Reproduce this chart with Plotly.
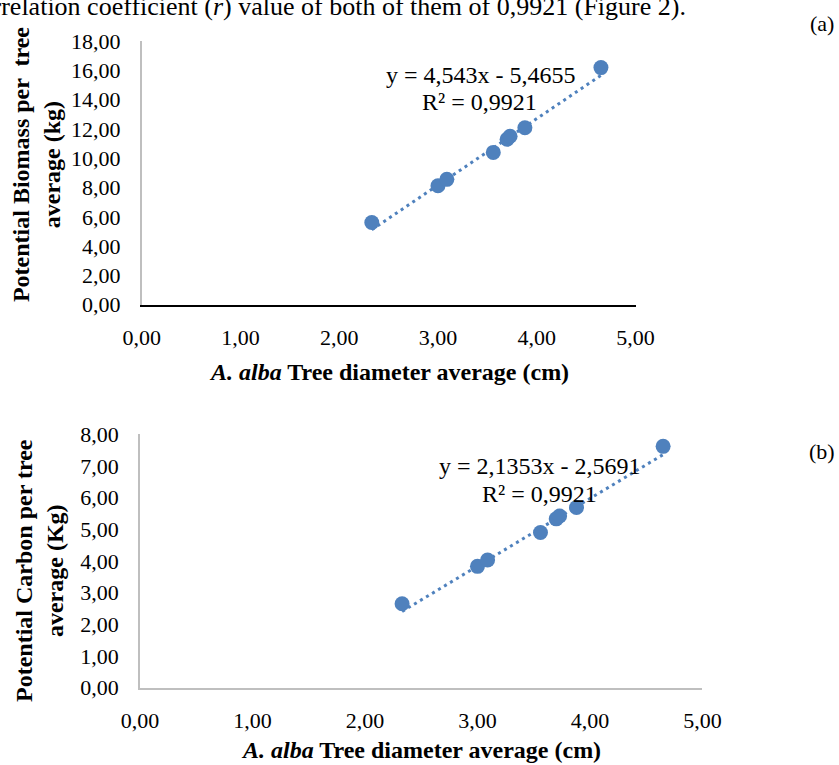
import plotly.graph_objects as go

# ---- data ----
diameter = [2.33, 3.00, 3.09, 3.56, 3.70, 3.73, 3.88, 4.65]
biomass = [5.61, 8.12, 8.56, 10.40, 11.30, 11.50, 12.08, 16.19]
carbon = [2.65, 3.83, 4.03, 4.90, 5.33, 5.42, 5.69, 7.62]
coef_biomass = [4.543, -5.4655]   # slope, intercept
coef_carbon = [2.1353, -2.5691]
eq_biomass = ["y = 4,543x - 5,4655", "R² = 0,9921"]
eq_carbon = ["y = 2,1353x - 2,5691", "R² = 0,9921"]
x_ticks = [0, 1, 2, 3, 4, 5]
ya_ticks = [0, 2, 4, 6, 8, 10, 12, 14, 16, 18]
yb_ticks = [0, 1, 2, 3, 4, 5, 6, 7, 8]
body_text = "correlation coefficient (<i>r</i>) value of both of them of 0,9921 (Figure 2)."

W, H = 839, 765
BLUE = "#4F81BD"
FONT = "Liberation Serif"

# the photographed page shows a slightly larger area than the figure;
# convert target picture pixels into page pixels
SX, OX = 0.955, 19.0
SY, OY = 0.97, 11.5


def px(x):
    return ((x - OX) / SX) / W


def py(y):
    return 1 - ((y - OY) / SY) / H


fig = go.Figure()


def add_panel(xs, ys, coef, xa, ya):
    lo, hi = min(xs), max(xs)
    fig.add_trace(go.Scatter(
        x=[lo, hi], y=[coef[0] * lo + coef[1], coef[0] * hi + coef[1]],
        mode="lines", line=dict(color=BLUE, width=3, dash="3px,4px"),
        xaxis=xa, yaxis=ya, showlegend=False, hoverinfo="skip"))
    fig.add_trace(go.Scatter(
        x=xs, y=ys, mode="markers",
        marker=dict(color=BLUE, size=15),
        xaxis=xa, yaxis=ya, showlegend=False))


add_panel(diameter, biomass, coef_biomass, "x", "y")
add_panel(diameter, carbon, coef_carbon, "x2", "y2")

tickfont = dict(family=FONT, size=22, color="black")
common_x = dict(range=[0, 5], tickvals=x_ticks, tickformat=".2f", showgrid=False,
                zeroline=False, showline=True, ticks="", tickfont=tickfont,
                ticklabelstandoff=12, fixedrange=True)
common_y = dict(showgrid=False, zeroline=False, showline=True, ticks="",
                tickformat=".2f", tickfont=tickfont, ticklabelstandoff=15,
                fixedrange=True)

fig.update_layout(
    width=W, height=H, margin=dict(l=0, r=0, t=0, b=0),
    paper_bgcolor="white", plot_bgcolor="white", separators=", ",
    showlegend=False, font=dict(family=FONT),
    xaxis=dict(domain=[px(141.7), px(635.7)], anchor="y", linecolor="black",
               linewidth=1.5, **common_x),
    yaxis=dict(domain=[py(305), py(40.7)], anchor="x", range=[0, 18],
               tickvals=ya_ticks, linecolor="#BFBFBF", linewidth=1.5, **common_y),
    xaxis2=dict(domain=[px(140), px(702.7)], anchor="y2", linecolor="#BFBFBF",
                linewidth=1.5, **common_x),
    yaxis2=dict(domain=[py(689), py(435)], anchor="x2", range=[0, 8],
                tickvals=yb_ticks, linecolor="#BFBFBF", linewidth=1.5, **common_y),
)

ann = []


def note(text, x, y, size, xanchor="center", yanchor="middle", angle=0):
    ann.append(dict(text=text, x=px(x), y=py(y), xref="paper", yref="paper",
                    xanchor=xanchor, yanchor=yanchor, textangle=angle,
                    showarrow=False, font=dict(family=FONT, size=size, color="black")))


# cropped line of body text at the very top
note(body_text, 688, 6, 26, xanchor="right")
note("(a)", 822, 23, 22)
note("(b)", 822, 452, 22)

# regression equations
note(eq_biomass[0], 481, 75, 24)
note(eq_biomass[1], 480, 102, 24)
note(eq_carbon[0], 540, 467, 24)
note(eq_carbon[1], 540, 495, 24)

# axis titles
xt = "<b><i>A. alba</i> Tree diameter average (cm)</b>"
note(xt, 389, 372, 24)
note(xt, 421, 752, 24)
note("<b>Potential Biomass per  tree<br>average (kg)</b>", 36, 164, 24, angle=-90)
note("<b>Potential Carbon per tree<br>average (Kg)</b>", 40, 571, 24, angle=-90)

fig.update_layout(annotations=ann)
fig.write_html("out.html", config={"displayModeBar": False},
               post_script="document.body.style.margin='0';document.body.style.overflow='hidden';")
